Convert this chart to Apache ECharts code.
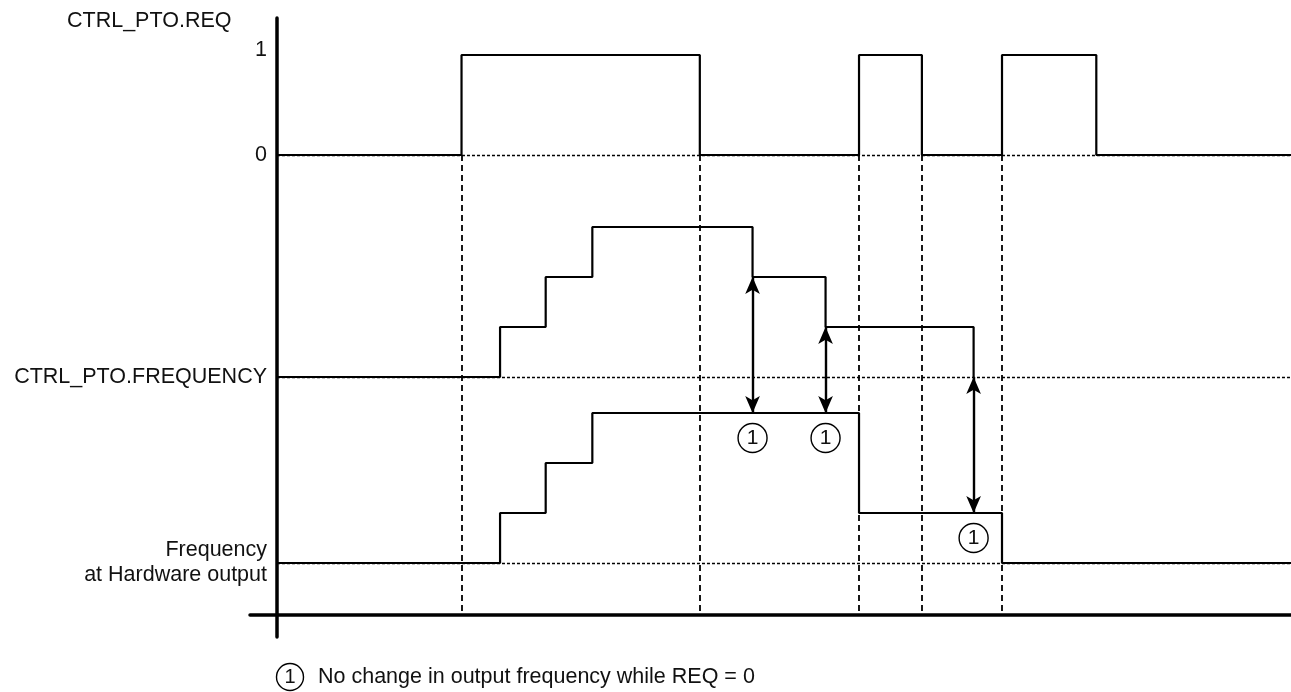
<!DOCTYPE html>
<html>
<head>
<meta charset="utf-8">
<script src="https://cdn.jsdelivr.net/npm/echarts@6/dist/echarts.min.js"></script>
<style>
html, body { margin: 0; padding: 0; background: #fff; }
#main { width: 1291px; height: 692px; }
</style>
</head>
<body>
<div id="main"></div>
<script>
// level changes, time in arbitrary units (0..100)
var reqTimes = [0, 18.2, 41.7, 57.4, 63.6, 71.5, 80.8];
var reqLevels = [0, 1, 0, 1, 0, 1, 0];
var setTimes = [0, 22.0, 26.5, 31.1, 46.9, 54.1, 68.7];
var setLevels = [0, 1, 2, 3, 2, 1, 0];
var hwTimes = [0, 22.0, 26.5, 31.1, 57.4, 71.5];
var hwLevels = [0, 1, 2, 3, 1, 0];
var tEnd = 100;

var reqTickLabels = ['0', '1'];
var laneNames = ['CTRL_PTO.REQ', 'CTRL_PTO.FREQUENCY', 'Frequency\nat Hardware output'];
var noteText = 'No change in output frequency while REQ = 0';

// where each signal sits on the shared y axis
var lanes = {
    req: { base: 9.2, scale: 2 },
    set: { base: 4.76, scale: 1 },
    hw: { base: 1.04, scale: 1 }
};

var font = '"Liberation Sans", Arial, sans-serif';
var ink = '#111';
var fs = 21.5;

function levelAt(times, levels, t) {
    var v = levels[0];
    for (var i = 0; i < times.length; i++) {
        if (times[i] <= t) v = levels[i];
    }
    return v;
}

function stepData(times, levels, lane, endT) {
    var out = [];
    for (var i = 0; i < times.length; i++) {
        out.push([times[i], lane.base + lane.scale * levels[i]]);
    }
    if (endT != null) out.push([endT, lane.base + lane.scale * levels[levels.length - 1]]);
    return out;
}

// arrows + notes where the setpoint changes while REQ = 0
var arrowLines = [];
var notes = [];
setTimes.forEach(function (t, i) {
    if (i === 0 || levelAt(reqTimes, reqLevels, t) !== 0) return;
    var ySet = lanes.set.base + setLevels[i];
    var yHw = lanes.hw.base + levelAt(hwTimes, hwLevels, t);
    var end = { symbol: 'arrow', symbolSize: [11, 17] };
    arrowLines.push([
        Object.assign({ coord: [t, ySet] }, end),
        Object.assign({ coord: [t, yHw] }, end)
    ]);
    notes.push([t, yHw - 0.5]);
});

// dashed guides: lane baselines, and REQ edges (all but the last)
var hGuides = [];
['req', 'set', 'hw'].forEach(function (k) {
    hGuides.push([{ coord: [0, lanes[k].base] }, { coord: [tEnd, lanes[k].base] }]);
});
var vGuides = reqTimes.slice(1, -1).map(function (t) {
    return [{ coord: [t, lanes.req.base] }, { coord: [t, 0] }];
});

var labelMap = {};
labelMap[lanes.req.base] = reqTickLabels[0];
labelMap[lanes.req.base + lanes.req.scale] = '{up|' + reqTickLabels[1] + '}';
labelMap[lanes.set.base] = laneNames[1];
labelMap[lanes.hw.base] = laneNames[2];

var sigLine = { color: '#000', width: 2.2 };

var chart = echarts.init(document.getElementById('main'));
chart.setOption({
    animation: false,
    title: {
        text: laneNames[0],
        left: 67,
        top: 10,
        padding: 0,
        textStyle: { fontFamily: font, fontSize: fs, fontWeight: 'normal', color: ink }
    },
    grid: { left: 250, right: 0, top: 18, bottom: 55, containLabel: false, outerBoundsMode: 'none' },
    xAxis: {
        type: 'value',
        min: -2.66,
        max: tEnd,
        axisLine: { onZero: true, lineStyle: { color: '#000', width: 3.5 } },
        axisTick: { show: false },
        axisLabel: { show: false },
        splitLine: { show: false }
    },
    yAxis: {
        type: 'value',
        min: -0.44,
        max: 11.94,
        axisLine: { show: true, onZero: true, lineStyle: { color: '#000', width: 3.5 } },
        axisTick: { show: false },
        splitLine: { show: false },
        axisLabel: {
            customValues: [lanes.hw.base, lanes.set.base, lanes.req.base, lanes.req.base + lanes.req.scale],
            formatter: function (v) {
                for (var k in labelMap) {
                    if (Math.abs(+k - v) < 1e-6) return labelMap[k];
                }
                return '';
            },
            margin: -17,
            fontFamily: font,
            fontSize: fs,
            lineHeight: 25,
            color: ink,
            rich: {
                up: { fontFamily: font, fontSize: fs, color: ink, padding: [0, 0, 9, 0] }
            }
        }
    },
    graphic: [
        { type: 'circle', shape: { cx: 290, cy: 677, r: 13.5 }, style: { fill: 'none', stroke: '#000', lineWidth: 1.4 } },
        { type: 'text', x: 290, y: 677, style: { text: '1', fontFamily: font, fontSize: 20, fill: ink, align: 'center', verticalAlign: 'middle' } },
        { type: 'text', x: 318, y: 677, style: { text: noteText, fontFamily: font, fontSize: fs, fill: ink, verticalAlign: 'middle' } }
    ],
    series: [
        {
            type: 'line',
            data: [],
            silent: true,
            markLine: {
                silent: true,
                z: 1,
                symbol: 'none',
                label: { show: false },
                lineStyle: { color: '#000', width: 1.4, type: [3, 2] },
                data: hGuides
            }
        },
        {
            type: 'line',
            data: [],
            silent: true,
            markLine: {
                silent: true,
                z: 1,
                symbol: 'none',
                label: { show: false },
                lineStyle: { color: '#000', width: 1.8, type: [6, 4] },
                data: vGuides
            }
        },
        { type: 'line', step: 'end', showSymbol: false, lineStyle: sigLine, z: 3, data: stepData(reqTimes, reqLevels, lanes.req, tEnd) },
        { type: 'line', step: 'end', showSymbol: false, lineStyle: sigLine, z: 3, data: stepData(setTimes, setLevels, lanes.set) },
        { type: 'line', step: 'end', showSymbol: false, lineStyle: sigLine, z: 3, data: stepData(hwTimes, hwLevels, lanes.hw, tEnd) },
        {
            type: 'line',
            data: [],
            markLine: {
                silent: true,
                z: 6,
                label: { show: false },
                lineStyle: { color: '#000', width: 2.4, type: 'solid' },
                itemStyle: { color: '#000' },
                data: arrowLines
            }
        },
        {
            type: 'scatter',
            z: 7,
            symbolSize: 29,
            itemStyle: { color: '#fff', borderColor: '#000', borderWidth: 1.4, opacity: 1 },
            label: { show: true, position: 'inside', formatter: '1', fontFamily: font, fontSize: 21, color: ink },
            data: notes
        }
    ]
});
</script>
</body>
</html>
